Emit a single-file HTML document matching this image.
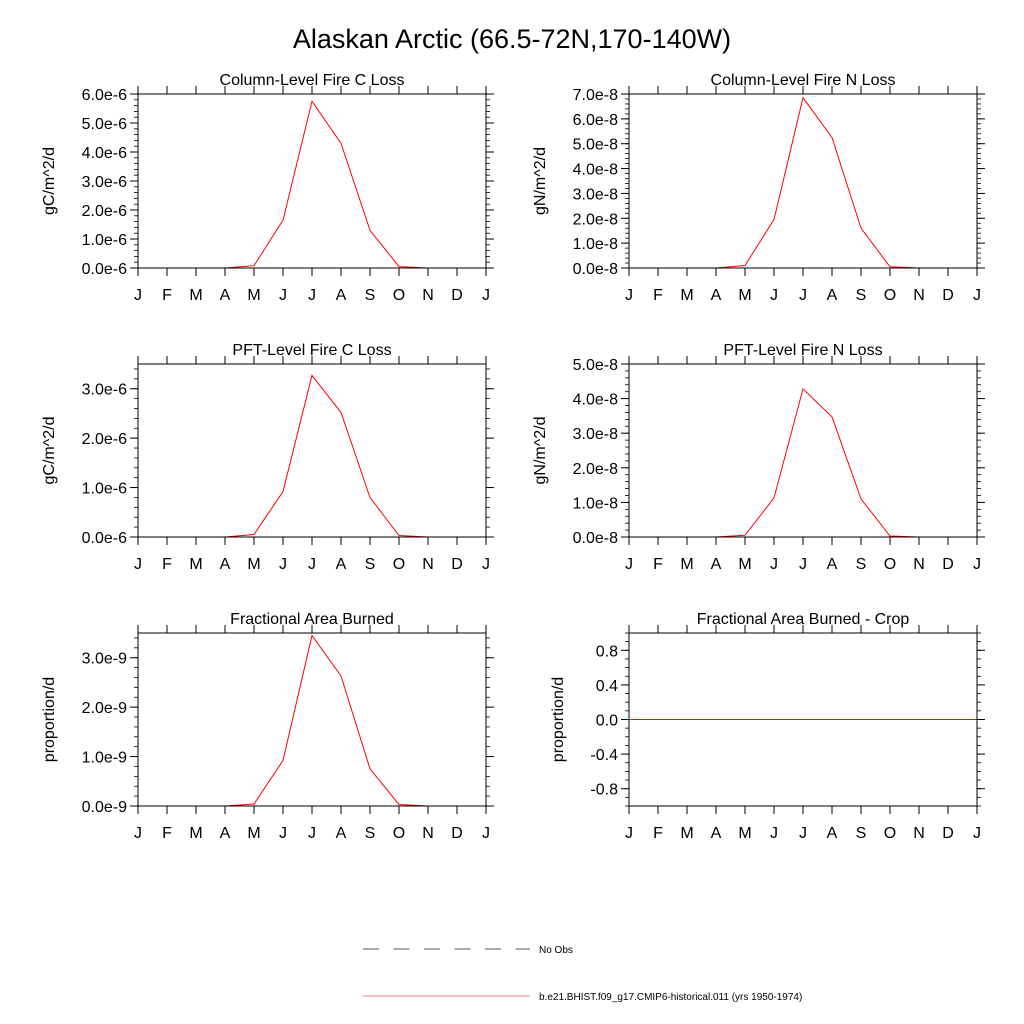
<!DOCTYPE html>
<html><head><meta charset="utf-8"><style>
body{margin:0;background:#fff;}
svg{display:block;font-family:"Liberation Sans",sans-serif;}
</style></head><body>
<svg id="fig" width="1024" height="1024" viewBox="0 0 1024 1024">
<rect width="1024" height="1024" fill="#fff"/>
<text x="512" y="48" font-size="27" text-anchor="middle">Alaskan Arctic (66.5-72N,170-140W)</text>
<g>
<line x1="363" y1="949" x2="530" y2="949" stroke="#555" stroke-width="1" stroke-dasharray="16,14.5"/>
<text x="539" y="953" font-size="10">No Obs</text>
<line x1="363" y1="996" x2="530" y2="996" stroke="#f08080" stroke-width="1"/>
<text x="539" y="1000" font-size="10">b.e21.BHIST.f09_g17.CMIP6-historical.011 (yrs 1950-1974)</text>
</g>
</svg>
<script>
const months = ["J","F","M","A","M","J","J","A","S","O","N","D","J"];
const colCLoss = [0,0,0,0,0.08,1.65,5.75,4.3,1.3,0.05,0,0,0];
const colNLoss = [0,0,0,0,0.1,1.95,6.85,5.25,1.6,0.05,0,0,0];
const pftCLoss = [0,0,0,0,0.05,0.92,3.27,2.52,0.8,0.03,0,0,0];
const pftNLoss = [0,0,0,0,0.05,1.13,4.28,3.47,1.1,0.03,0,0,0];
const areaBurned = [0,0,0,0,0.04,0.92,3.45,2.63,0.75,0.03,0,0,0];
const areaBurnedCrop = [0,0,0,0,0,0,0,0,0,0,0,0,0];
const ticksC = ["0.0e-6","1.0e-6","2.0e-6","3.0e-6","4.0e-6","5.0e-6","6.0e-6"];
const ticksN = ["0.0e-8","1.0e-8","2.0e-8","3.0e-8","4.0e-8","5.0e-8","6.0e-8","7.0e-8"];
const ticksPC = ["0.0e-6","1.0e-6","2.0e-6","3.0e-6"];
const ticksPN = ["0.0e-8","1.0e-8","2.0e-8","3.0e-8","4.0e-8","5.0e-8"];
const ticksA = ["0.0e-9","1.0e-9","2.0e-9","3.0e-9"];
const ticksCrop = ["-0.8","-0.4","0.0","0.4","0.8"];
const tickValsCrop = [-0.8,-0.4,0,0.4,0.8];

const NS="http://www.w3.org/2000/svg";
const svg=document.getElementById('fig');
function mk(tag,attrs,parent){const e=document.createElementNS(NS,tag);for(const k in attrs)e.setAttribute(k,attrs[k]);(parent||svg).appendChild(e);return e;}

const panels=[
 {name:"col-c-loss",title:"Column-Level Fire C Loss",ylab:"gC/m^2/d",x0:138,y0:94,y1:268,ymin:0,ymax:6,data:colCLoss,labels:ticksC,vals:[0,1,2,3,4,5,6],minor:0.2},
 {name:"col-n-loss",title:"Column-Level Fire N Loss",ylab:"gN/m^2/d",x0:629,y0:94,y1:268,ymin:0,ymax:7,data:colNLoss,labels:ticksN,vals:[0,1,2,3,4,5,6,7],minor:0.2},
 {name:"pft-c-loss",title:"PFT-Level Fire C Loss",ylab:"gC/m^2/d",x0:138,y0:364,y1:537,ymin:0,ymax:3.5,data:pftCLoss,labels:ticksPC,vals:[0,1,2,3],minor:0.2},
 {name:"pft-n-loss",title:"PFT-Level Fire N Loss",ylab:"gN/m^2/d",x0:629,y0:364,y1:537,ymin:0,ymax:5,data:pftNLoss,labels:ticksPN,vals:[0,1,2,3,4,5],minor:0.2},
 {name:"area-burned",title:"Fractional Area Burned",ylab:"proportion/d",x0:138,y0:633,y1:806,ymin:0,ymax:3.5,data:areaBurned,labels:ticksA,vals:[0,1,2,3],minor:0.2},
 {name:"area-burned-crop",title:"Fractional Area Burned - Crop",ylab:"proportion/d",x0:629,y0:633,y1:806,ymin:-1,ymax:1,data:areaBurnedCrop,labels:ticksCrop,vals:tickValsCrop,minor:0.1}
];
const W=348;
panels.forEach(p=>{
 const g=mk('g',{});
 
 
 const xs=i=>p.x0+i*W/12;
 const ys=v=>p.y1-(v-p.ymin)/(p.ymax-p.ymin)*(p.y1-p.y0);
 const t=mk('text',{x:p.x0+W/2,y:p.y0-9,'font-size':16,'text-anchor':'middle'},g);
 t.textContent=p.title;
 
 
 // minor y ticks
 for(let v=p.ymin;v<=p.ymax+1e-9;v+=p.minor){
  const y=ys(v);
  mk('line',{x1:p.x0-4,x2:p.x0,y1:y,y2:y,stroke:'#000','stroke-width':0.8},g);
  mk('line',{x1:p.x0+W,x2:p.x0+W+4,y1:y,y2:y,stroke:'#000','stroke-width':0.8},g);
 }
 p.vals.forEach((v,i)=>{
  const y=ys(v);
  mk('line',{x1:p.x0-8,x2:p.x0,y1:y,y2:y,stroke:'#000','stroke-width':1},g);
  mk('line',{x1:p.x0+W,x2:p.x0+W+8,y1:y,y2:y,stroke:'#000','stroke-width':1},g);
  const l=mk('text',{x:p.x0-11,y:y+6,'font-size':16,'text-anchor':'end'},g);
  l.textContent=p.labels[i];
  
  
 });
 months.forEach((m,i)=>{
  const x=xs(i);
  mk('line',{x1:x,x2:x,y1:p.y0-8,y2:p.y0,stroke:'#000','stroke-width':1},g);
  mk('line',{x1:x,x2:x,y1:p.y1,y2:p.y1+8,stroke:'#000','stroke-width':1},g);
  const l=mk('text',{x:x,y:p.y1+32,'font-size':16,'text-anchor':'middle'},g);
  l.textContent=m;
  
  
 });
 const yl=mk('text',{x:0,y:0,'font-size':16,'text-anchor':'middle',transform:`translate(${p.x0-(p.ymin<0?66:84)},${(p.y0+p.y1)/2}) rotate(-90)`},g);
 yl.textContent=p.ylab;
 
 
 const pts=p.data.map((v,i)=>xs(i).toFixed(1)+','+ys(v).toFixed(1)).join(' ');
 const pl=mk('polyline',{points:pts,fill:'none',stroke:'#ff0000','stroke-width':1},g);
 
 
 const fr=mk('rect',{x:p.x0,y:p.y0,width:W,height:p.y1-p.y0,fill:'none',stroke:'#000','stroke-width':1},g);
 
 
});
</script>
</body></html>
